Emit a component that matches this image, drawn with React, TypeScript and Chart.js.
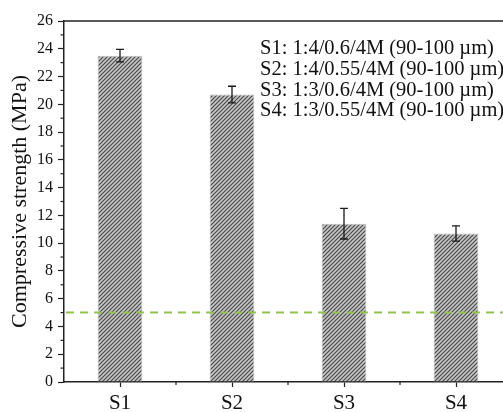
import React, { useEffect, useRef } from "react";
import { Chart, registerables } from "chart.js";

Chart.register(...registerables);

const categories = ["S1", "S2", "S3", "S4"];
const strengths = [23.5, 20.7, 11.4, 10.7];
const errors = [0.45, 0.6, 1.1, 0.55];
const referenceLine = 5;
const legendLines = [
  "S1: 1:4/0.6/4M (90-100 \u00b5m)",
  "S2: 1:4/0.55/4M (90-100 \u00b5m)",
  "S3: 1:3/0.6/4M (90-100 \u00b5m)",
  "S4: 1:3/0.55/4M (90-100 \u00b5m)",
];
const yTitle = "Compressive strength (MPa)";

const SERIF = '"Liberation Serif", "Times New Roman", serif';

function makeHatch(): CanvasPattern | string {
  const c = document.createElement("canvas");
  const s = 4;
  c.width = s;
  c.height = s;
  const g = c.getContext("2d");
  if (!g) return "#999";
  g.fillStyle = "#c6c6c6";
  g.fillRect(0, 0, s, s);
  g.strokeStyle = "#4a4a4a";
  g.lineWidth = 1.2;
  g.beginPath();
  g.moveTo(-1, s + 1);
  g.lineTo(s + 1, -1);
  g.moveTo(-1, 1);
  g.lineTo(1, -1);
  g.moveTo(s - 1, s + 1);
  g.lineTo(s + 1, s - 1);
  g.stroke();
  const p = g.createPattern(c, "repeat");
  return p || "#999";
}

const extrasPlugin = {
  id: "extras",
  afterDatasetsDraw(chart: any) {
    const { ctx, chartArea, scales } = chart;
    const x = scales.x;
    const y = scales.y;
    ctx.save();
    // error bars
    ctx.strokeStyle = "#1a1a1a";
    ctx.lineWidth = 1.3;
    strengths.forEach((v, i) => {
      const px = x.getPixelForValue(i);
      const top = y.getPixelForValue(v + errors[i]);
      const bot = y.getPixelForValue(v - errors[i]);
      ctx.beginPath();
      ctx.moveTo(px, top);
      ctx.lineTo(px, bot);
      ctx.moveTo(px - 4, top);
      ctx.lineTo(px + 4, top);
      ctx.moveTo(px - 4, bot);
      ctx.lineTo(px + 4, bot);
      ctx.stroke();
    });
    // reference dashed line
    const ry = y.getPixelForValue(referenceLine);
    ctx.strokeStyle = "#93c24e";
    ctx.lineWidth = 2;
    ctx.setLineDash([8, 6]);
    ctx.beginPath();
    ctx.moveTo(chartArea.left + 2, ry);
    ctx.lineTo(chartArea.right, ry);
    ctx.stroke();
    ctx.setLineDash([]);
    // top frame line
    ctx.strokeStyle = "#222";
    ctx.lineWidth = 1.5;
    ctx.beginPath();
    ctx.moveTo(chartArea.left, chartArea.top);
    ctx.lineTo(chartArea.right, chartArea.top);
    ctx.stroke();
    // minor ticks on y
    ctx.lineWidth = 1.2;
    for (let v = 1; v < 26; v += 2) {
      const py = y.getPixelForValue(v);
      ctx.beginPath();
      ctx.moveTo(chartArea.left - 3.5, py);
      ctx.lineTo(chartArea.left, py);
      ctx.stroke();
    }
    // minor ticks on x
    for (let i = 0; i < categories.length - 1; i++) {
      const px = (x.getPixelForValue(i) + x.getPixelForValue(i + 1)) / 2;
      ctx.beginPath();
      ctx.moveTo(px, chartArea.bottom);
      ctx.lineTo(px, chartArea.bottom + 3);
      ctx.stroke();
    }
    // legend text
    ctx.fillStyle = "#111";
    ctx.font = `20.5px ${SERIF}`;
    ctx.textAlign = "left";
    ctx.textBaseline = "alphabetic";
    legendLines.forEach((t, i) => {
      ctx.fillText(t, 260, 54 + i * 20.8);
    });
    ctx.restore();
  },
};

export default function App() {
  const ref = useRef<HTMLCanvasElement | null>(null);
  useEffect(() => {
    if (!ref.current) return;
    const hatch = makeHatch();
    const chart = new Chart(ref.current, {
      type: "bar",
      data: {
        labels: categories,
        datasets: [
          {
            data: strengths,
            backgroundColor: hatch as any,
            borderColor: "#bdbdbd",
            borderWidth: 1,
            barPercentage: 0.4,
            categoryPercentage: 1,
          },
        ],
      },
      options: {
        responsive: false,
        animation: false,
        layout: { padding: { top: 21, right: 8, left: 0, bottom: 0 } },
        plugins: { legend: { display: false }, tooltip: { enabled: false } },
        scales: {
          x: {
            offset: true,
            grid: {
              display: true,
              drawOnChartArea: false,
              drawTicks: true,
              tickLength: 5,
              tickColor: "#222",
              tickWidth: 1.2,
              offset: false,
            },
            border: { display: true, color: "#222", width: 1.5 },
            ticks: {
              color: "#111",
              font: { family: SERIF, size: 21 },
              padding: 4,
              maxRotation: 0,
            },
            afterFit: (s: any) => {
              s.height = 30;
            },
          },
          y: {
            min: 0,
            max: 26,
            grid: {
              display: true,
              drawOnChartArea: false,
              drawTicks: true,
              tickLength: 6,
              tickColor: "#222",
              tickWidth: 1.2,
            },
            border: { display: true, color: "#222", width: 1.5 },
            ticks: {
              stepSize: 2,
              color: "#111",
              font: { family: SERIF, size: 16 },
              padding: 5,
            },
            title: {
              display: true,
              text: yTitle,
              color: "#111",
              font: { family: SERIF, size: 22, weight: "normal" },
              padding: { top: 7, bottom: 0 },
            },
            afterFit: (s: any) => {
              s.width = 64;
            },
          },
        },
      },
      plugins: [extrasPlugin],
    });
    return () => chart.destroy();
  }, []);
  return (
    <div
      style={{
        position: "fixed",
        left: 0,
        top: 0,
        width: 503,
        height: 412,
        overflow: "hidden",
        background: "#fff",
      }}
    >
      <canvas ref={ref} width={520} height={412} style={{ display: "block" }} />
    </div>
  );
}
